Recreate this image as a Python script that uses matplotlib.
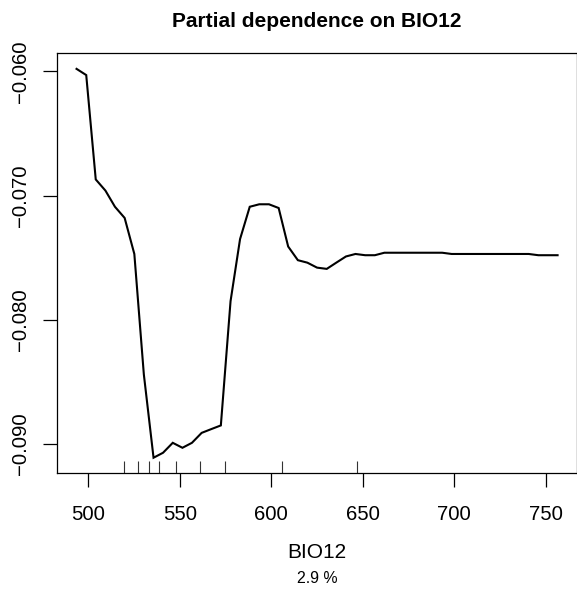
import matplotlib
matplotlib.use("Agg")
import matplotlib.pyplot as plt
import matplotlib.transforms as mtransforms

plt.rcParams["font.family"] = ["Liberation Sans", "DejaVu Sans"]

# partial dependence curve
bio12 = [493.6, 498.9, 504.1, 509.4, 514.6, 519.9, 525.2, 530.4, 535.7, 540.9,
         546.2, 551.5, 556.7, 562.0, 567.2, 572.5, 577.8, 583.0, 588.3, 593.5,
         598.8, 604.1, 609.3, 614.6, 619.8, 625.1, 630.4, 635.6, 640.9, 646.1,
         651.4, 656.7, 661.9, 667.2, 672.4, 677.7, 683.0, 688.2, 693.5, 698.7,
         704.0, 709.3, 714.5, 719.8, 725.0, 730.3, 735.6, 740.8, 746.1, 751.3,
         756.6]
effect = [-0.0598, -0.0603, -0.0687, -0.0696, -0.0709, -0.0718, -0.0747, -0.0844, -0.0911, -0.0907,
          -0.0899, -0.0903, -0.0899, -0.0891, -0.0888, -0.0885, -0.0785, -0.0735, -0.0709, -0.0707,
          -0.0707, -0.0710, -0.0741, -0.0752, -0.0754, -0.0758, -0.0759, -0.0754, -0.0749, -0.0747,
          -0.0748, -0.0748, -0.0746, -0.0746, -0.0746, -0.0746, -0.0746, -0.0746, -0.0746, -0.0747,
          -0.0747, -0.0747, -0.0747, -0.0747, -0.0747, -0.0747, -0.0747, -0.0747, -0.0748, -0.0748,
          -0.0748]

# rug of observed values
rug = [519.4, 527.0, 533.0, 538.8, 547.9, 561.2, 574.8, 606.1, 647.2]

xticks = [500, 550, 600, 650, 700, 750]
yticks = [-0.09, -0.08, -0.07, -0.06]
ytick_labels = ["\u22120.090", "\u22120.080", "\u22120.070", "\u22120.060"]

fig = plt.figure(figsize=(5.77, 5.93), dpi=100)
ax = fig.add_axes([0.0993, 0.2019, 0.9004, 0.7082])

ax.plot(bio12, effect, color="black", lw=1.5, solid_joinstyle="miter")
ax.margins(x=0.04, y=0.04)

trans = mtransforms.blended_transform_factory(ax.transData, ax.transAxes)
ax.vlines(rug, 0, 0.03, transform=trans, color="#333333", lw=0.8)

ax.set_xticks(xticks)
ax.set_yticks(yticks)
ax.set_yticklabels(ytick_labels)
ax.tick_params(axis="both", labelsize=14.7, length=10, width=0.9)
ax.tick_params(axis="x", pad=13)
ax.tick_params(axis="y", pad=9.5)
for lab in ax.get_yticklabels():
    lab.set_rotation(90)
    lab.set_va("center")

for s in ax.spines.values():
    s.set_linewidth(0.9)

ax.set_title("Partial dependence on BIO12", fontsize=15, fontweight="bold", pad=19)
ax.set_xlabel("BIO12", fontsize=15, labelpad=13.5)
fig.text(0.5499, 1 - 583 / 593, "2.9 %", ha="center", va="baseline", fontsize=11.4)

fig.savefig("out.png", dpi=100)
